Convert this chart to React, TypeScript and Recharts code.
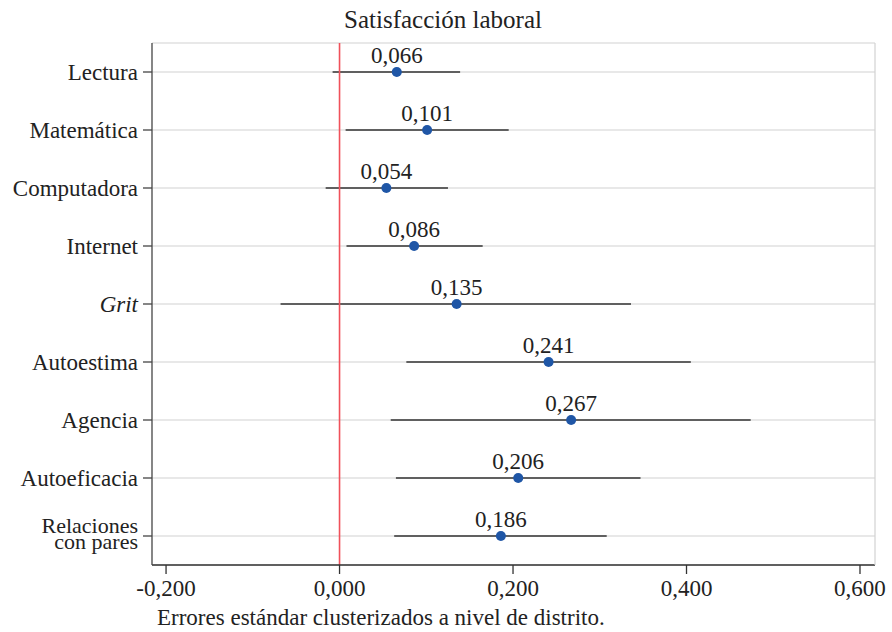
import React from 'react';
import {
  ScatterChart,
  Scatter,
  XAxis,
  YAxis,
  CartesianGrid,
  ReferenceLine,
  ErrorBar,
} from 'recharts';

// coefficient plot, values
const categories = [
  'Lectura',
  'Matemática',
  'Computadora',
  'Internet',
  'Grit',
  'Autoestima',
  'Agencia',
  'Autoeficacia',
  'Relaciones con pares',
];
const coefs = [0.066, 0.101, 0.054, 0.086, 0.135, 0.241, 0.267, 0.206, 0.186];
const ciLow = [-0.008, 0.007, -0.016, 0.008, -0.068, 0.077, 0.059, 0.065, 0.063];
const ciHigh = [0.139, 0.195, 0.125, 0.165, 0.336, 0.405, 0.474, 0.347, 0.308];
const xTicks = [-0.2, 0, 0.2, 0.4, 0.6];

const data = categories.map((name, i) => ({
  name,
  coef: coefs[i],
  err: [coefs[i] - ciLow[i], ciHigh[i] - coefs[i]],
}));

const FONT = '"Liberation Serif", "DejaVu Serif", serif';
const fmt = (v: number) => v.toFixed(3).replace('.', ',');

const YTick = (props: any) => {
  const { x, y, payload } = props;
  const name: string = payload.value;
  if (name === 'Relaciones con pares') {
    return (
      <g>
        <text x={x} y={y - 3} textAnchor="end" fontFamily={FONT} fontSize={22} fill="#222">Relaciones</text>
        <text x={x} y={y + 13} textAnchor="end" fontFamily={FONT} fontSize={22} fill="#222">con pares</text>
      </g>
    );
  }
  return (
    <text
      x={x}
      y={y + 8}
      textAnchor="end"
      fontFamily={FONT}
      fontSize={23}
      fontStyle={name === 'Grit' ? 'italic' : 'normal'}
      fill="#222"
    >
      {name}
    </text>
  );
};

const Dot = (props: any) => {
  const { cx, cy, payload } = props;
  return (
    <g>
      <circle cx={cx} cy={cy} r={5} fill="#1f56a6" />
      <text x={cx} y={cy - 9.5} textAnchor="middle" fontFamily={FONT} fontSize={23} fill="#222">
        {fmt(payload.coef)}
      </text>
    </g>
  );
};

export default function App() {
  return (
    <div style={{ position: 'absolute', left: 0, top: 0, width: 892, height: 632, background: '#fff' }}>
      <div
        style={{
          position: 'absolute',
          left: 0,
          width: 886,
          top: 7,
          textAlign: 'center',
          fontFamily: FONT,
          fontSize: 25,
          lineHeight: '25px',
          color: '#222',
          zIndex: 2,
        }}
      >
        Satisfacción laboral
      </div>
      <ScatterChart width={892} height={632} margin={{ top: 43, right: 16, bottom: 0, left: 0 }}>
        <CartesianGrid horizontal vertical={false} stroke="#d2d2d2" strokeWidth={1.2} />
        <XAxis
          type="number"
          dataKey="coef"
          domain={[-0.2162, 0.6173]}
          ticks={xTicks}
          tickFormatter={fmt}
          height={67}
          stroke="#333"
          strokeWidth={1.3}
          tickSize={9}
          tickMargin={6}
          tick={{ fontFamily: FONT, fontSize: 23, fill: '#222' }}
          allowDataOverflow
        />
        <XAxis
          xAxisId="top"
          orientation="top"
          type="number"
          domain={[-0.2162, 0.6173]}
          height={0}
          tick={false}
          tickLine={false}
          stroke="#d2d2d2"
          strokeWidth={1.2}
        />
        <YAxis
          type="category"
          dataKey="name"
          reversed
          width={152}
          stroke="#444"
          strokeWidth={1.3}
          tickSize={9}
          tickMargin={5}
          tick={<YTick />}
          interval={0}
        />
        <YAxis
          yAxisId="right"
          orientation="right"
          type="category"
          dataKey="name"
          reversed
          width={1}
          tick={false}
          tickLine={false}
          stroke="#d2d2d2"
          strokeWidth={1.2}
        />
        <Scatter data={data} shape={<Dot />} isAnimationActive={false}>
          <ErrorBar dataKey="err" direction="x" width={0} stroke="#333" strokeWidth={1.5} />
        </Scatter>
        <ReferenceLine x={0} stroke="#f0515a" strokeWidth={1.6} />
      </ScatterChart>
      <div
        style={{
          position: 'absolute',
          left: 157,
          top: 606,
          fontFamily: FONT,
          fontSize: 23,
          lineHeight: '23px',
          color: '#222',
          whiteSpace: 'nowrap',
        }}
      >
        Errores estándar clusterizados a nivel de distrito.
      </div>
    </div>
  );
}
